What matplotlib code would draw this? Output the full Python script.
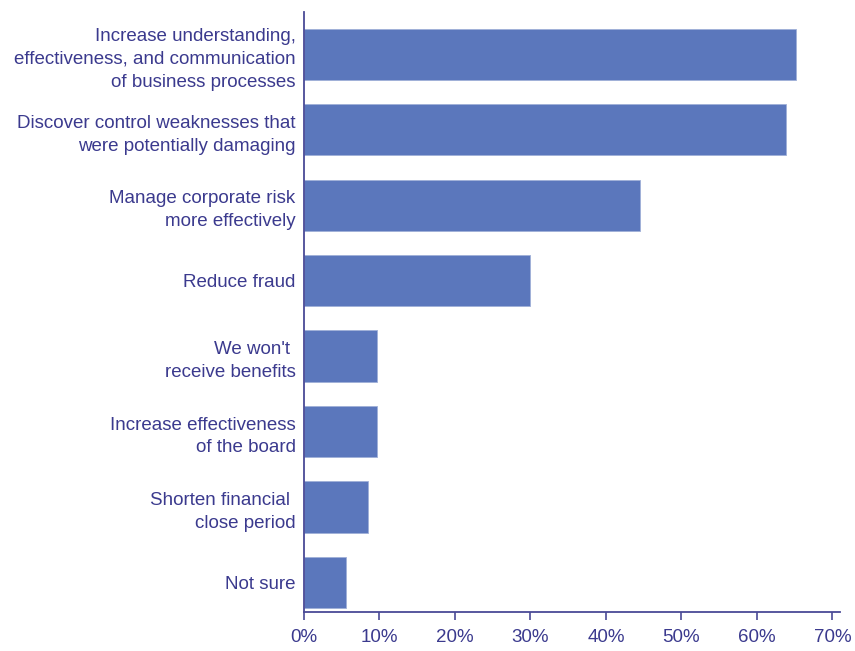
import matplotlib
matplotlib.use("Agg")
import matplotlib.pyplot as plt
from matplotlib.ticker import FuncFormatter

# Survey answers, top to bottom
categories = [
    "Increase understanding,\neffectiveness, and communication\nof business processes",
    "Discover control weaknesses that\nwere potentially damaging",
    "Manage corporate risk\nmore effectively",
    "Reduce fraud",
    "We won't \nreceive benefits",
    "Increase effectiveness\nof the board",
    "Shorten financial \nclose period",
    "Not sure",
]
shares = [65.2, 63.8, 44.5, 29.9, 9.7, 9.7, 8.5, 5.5]
xticks = [0, 10, 20, 30, 40, 50, 60, 70]

BAR = "#5B77BC"
INK = "#3B3A8E"
AXIS = "#4A4A96"

plt.rcParams["font.family"] = ["Liberation Sans", "DejaVu Sans"]

fig = plt.figure(figsize=(8.55, 6.51), dpi=100)
ax = fig.add_axes([304 / 855, 39 / 651, 536 / 855, 600 / 651])

y = list(range(len(categories)))
ax.barh(y, shares, height=0.68, color=BAR, edgecolor="#9FB0D8", linewidth=0.6)
ax.set_ylim(len(categories) - 1 + 0.39, -0.56)
ax.set_xlim(0, 71.0)

ax.set_yticks(y)
ax.set_yticklabels(categories, fontsize=13.5, color=INK, linespacing=1.45)
ax.tick_params(axis="y", length=0, pad=6)

ax.set_xticks(xticks)
ax.xaxis.set_major_formatter(FuncFormatter(lambda v, _: f"{v:.0f}%"))
ax.tick_params(axis="x", length=6, width=1.2, color=AXIS, labelsize=13.5,
               labelcolor=INK, pad=6)

for side in ("top", "right"):
    ax.spines[side].set_visible(False)
for side in ("left", "bottom"):
    ax.spines[side].set_color(AXIS)
    ax.spines[side].set_linewidth(1.3)

fig.savefig("out.png", dpi=100)
